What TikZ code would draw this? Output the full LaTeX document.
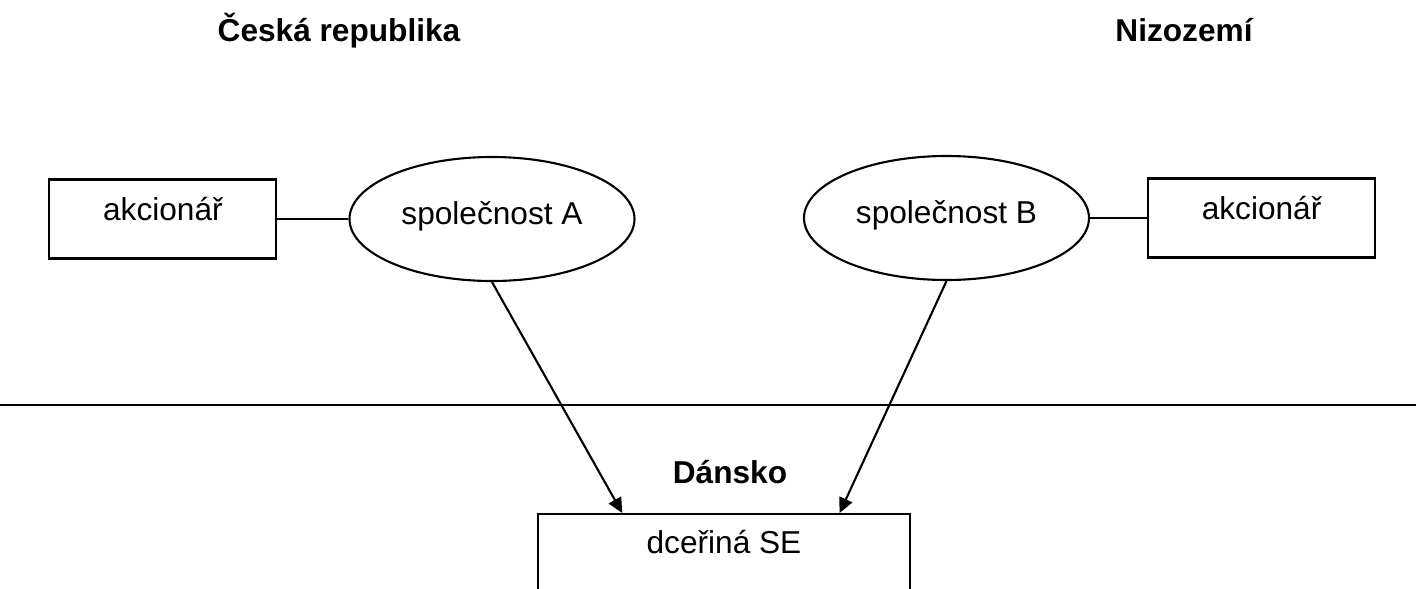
\documentclass[tikz,border=0pt]{standalone}
\usepackage{fontspec}
\setmainfont{Liberation Sans}
\usepackage{tikz}
\usetikzlibrary{arrows.meta}
\usetikzlibrary{calc}
\usetikzlibrary{positioning}
\usetikzlibrary{shapes.geometric}

\begin{document}
\begin{tikzpicture}
[
	Country/.style	= {font = \fontsize{9}{11}\selectfont\bfseries, anchor = base},
	Holder/.style	= {draw, rectangle, line width = 0.6pt, font = \fontsize{9}{11}\selectfont, minimum width = 2.27cm, minimum height = 0.79cm, inner sep = 0cm, text height = 0.28cm, text depth = 0.25cm},
	Company/.style	= {draw, ellipse, line width = 0.6pt, font = \fontsize{9}{11}\selectfont, minimum width = 2.85cm, minimum height = 1.24cm, inner sep = 0cm, text height = 0.31cm, text depth = 0.21cm},
	Link/.style		= {line width = 0.6pt},
	Arrow/.style	= {line width = 0.6pt, -{Triangle[length = 0.15cm, width = 0.14cm]}},
]

	\useasboundingbox (0,0) rectangle (14.16,5.88);

	\node (cz) [Country] at (3.39,5.47) {Česká republika};
	\node (nl) [Country] at (11.84,5.47) {Nizozemí};
	%
	\node (cA) [Company] at (4.92,3.69) {společnost A};
	\node (aA) [Holder, left = 0.71cm of cA] {akcionář};
	\node (cB) [Company] at (9.465,3.70) {společnost B};
	\node (aB) [Holder, right = 0.57cm of cB] {akcionář};
	%
	\node (dk) [Country] at (7.30,1.05) {Dánsko};
	\node (se) [Holder, anchor = north, minimum width = 3.72cm, minimum height = 0cm, text height = 0.39cm, text depth = 0.6cm] at (7.24,0.75) {dceřiná SE};

	% auxiliary coordinates for the border
	\coordinate (bW) at (0,1.83);
	\coordinate (bE) at (14.16,1.83);

	\draw [Link] (bW) -- (bE);
	\draw [Link] (aA) -- (cA);
	\draw [Link] (cB) -- (aB);
	%
	\draw [Arrow] (cA.south) -- ($(se.north west)!0.228!(se.north east)$);
	\draw [Arrow] (cB.south) -- ($(se.north west)!0.809!(se.north east)$);

\end{tikzpicture}
\end{document}
